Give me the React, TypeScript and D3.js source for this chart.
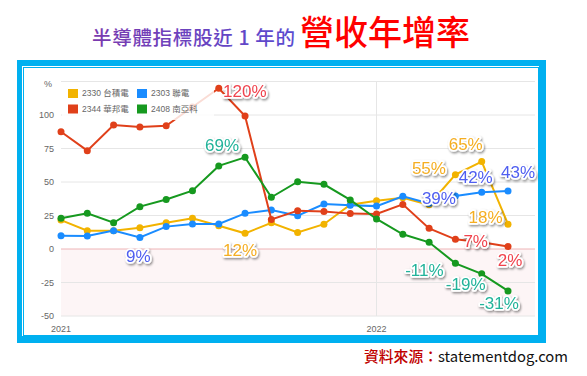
import React from "react";
import * as d3 from "d3";

const months = ["2021-01","2021-02","2021-03","2021-04","2021-05","2021-06","2021-07","2021-08","2021-09","2021-10","2021-11","2021-12","2022-01","2022-02","2022-03","2022-04","2022-05","2022-06"];
const tsmc = [21.6, 13.7, 13.7, 15.9, 19.6, 22.9, 17.4, 11.7, 19.5, 12.4, 18.5, 33, 36, 38.3, 33, 55.5, 65.3, 18.5];
const umc = [9.9, 9.7, 13.7, 8.6, 16.7, 18.7, 18.7, 26.6, 29.1, 24.9, 33.6, 32.6, 32, 39.3, 34, 39.5, 42.3, 43.3];
const winbond = [87.5, 73.4, 92.5, 91, 92, 106, 120, 99.3, 22, 28.6, 28, 26.4, 26.2, 33.3, 15.4, 7.2, 5, 1.8];
const nanya = [22.9, 26.6, 19.6, 31.6, 37, 43.5, 62, 68.4, 38.6, 50.2, 48.3, 36.6, 22.4, 11, 5, -10.7, -18.5, -31.3];

const seriesNames = ["2330 台積電", "2303 聯電", "2344 華邦電", "2408 南亞科"];
const seriesColors = ["#f2b300", "#1a8cff", "#e0401a", "#16991f"];
const yTicks = [-50, -25, 0, 25, 50, 75, 100, 125];
const yTickLabels = ["-50", "-25", "0", "25", "50", "75", "100", ""];
const xTickIdx = [0, 12];
const xTickLabels = ["2021", "2022"];

// annotations: series index, point index, text, offset
const annotations = [
  { s: 2, i: 6, text: "120%", dx: 26, dy: 3 },
  { s: 3, i: 7, text: "69%", dx: -23, dy: -12 },
  { s: 1, i: 3, text: "9%", dx: -1.5, dy: 18.5 },
  { s: 0, i: 7, text: "12%", dx: -5, dy: 17 },
  { s: 0, i: 15, text: "55%", dx: -26.5, dy: -6.6 },
  { s: 0, i: 16, text: "65%", dx: -16, dy: -17.5 },
  { s: 0, i: 17, text: "18%", dx: -22.5, dy: -7 },
  { s: 1, i: 15, text: "39%", dx: -16.5, dy: 1.7 },
  { s: 1, i: 16, text: "42%", dx: -6, dy: -15 },
  { s: 1, i: 17, text: "43%", dx: 10, dy: -19 },
  { s: 2, i: 16, text: "7%", dx: -6, dy: -1.6 },
  { s: 2, i: 17, text: "2%", dx: 2, dy: 13.5 },
  { s: 3, i: 15, text: "-11%", dx: -31, dy: 7 },
  { s: 3, i: 16, text: "-19%", dx: -16, dy: 10.5 },
  { s: 3, i: 17, text: "-31%", dx: -9, dy: 12 },
];
const labelColors = ["#f5ae22", "#4f5ef0", "#f0434d", "#22b39a"];

export default function App() {
  const W = 587, H = 376;
  const allSeries = [tsmc, umc, winbond, nanya];
  const x = d3.scaleLinear().domain([0, months.length - 1]).range([61, 508]);
  const y = d3.scaleLinear().domain([-50, 125]).range([316, 81.5]);
  const plotL = 61, plotR = 535;
  const line = d3.line<number>().x((_, i) => x(i)).y((d) => y(d));
  const font = "'Liberation Sans', Arial, 'Noto Sans CJK TC', sans-serif";
  const cjk = "'Noto Sans CJK TC', 'Noto Sans', sans-serif";

  return (
    <svg width={W} height={H} style={{ position: "absolute", left: 0, top: 0, background: "#fff" }}>
      <defs>
        <filter id="sh" x="-30%" y="-30%" width="160%" height="160%">
          <feDropShadow dx="1" dy="1.5" stdDeviation="1.3" floodColor="#000" floodOpacity="0.45" />
        </filter>
        <linearGradient id="tg" x1="0" x2="1" y1="0" y2="0">
          <stop offset="0" stopColor="#7a3aae" />
          <stop offset="1" stopColor="#5a4bd0" />
        </linearGradient>
      </defs>
      {/* Title */}
      <text x={92} y={45} fontFamily={cjk} fontSize={19.5} fontWeight={500} fill="url(#tg)" textLength={203} lengthAdjust="spacing">半導體指標股近 1 年的</text>
      <text x={300} y={45} fontFamily={cjk} fontSize={34} fontWeight={500} fill="#ff0000">營收年增率</text>

      {/* Frame */}
      <rect x={17} y={60} width={529} height={283} fill="#00b0f0" />
      <rect x={22} y={66} width={517} height={270} fill="#fff" />
      <rect x={23.5} y={67.5} width={515} height={268} fill="none" stroke="#00b0f0" strokeWidth={1} />

      {/* negative region */}
      <rect x={plotL} y={y(0)} width={plotR - plotL} height={y(-50) - y(0)} fill="#fdf5f6" />
      {/* grid */}
      {yTicks.map((t) => (
        <line key={t} x1={plotL} x2={plotR} y1={y(t)} y2={y(t)} stroke={t === 0 ? "#eeb4b6" : "#e6e6e6"} strokeWidth={1} />
      ))}
      <line x1={x(12)} x2={x(12)} y1={y(125)} y2={y(-50)} stroke="#e6e6e6" strokeWidth={1} />
      {/* y labels */}
      {yTicks.map((t, k) => (
        <text key={t} x={54} y={y(t)} dy="0.35em" textAnchor="end" fontFamily={font} fontSize={9} fill="#666">{yTickLabels[k]}</text>
      ))}
      <text x={52} y={84} dy="0.35em" textAnchor="end" fontFamily={font} fontSize={9} fill="#666">%</text>
      {xTickIdx.map((t, k) => (
        <text key={t} x={x(t)} y={329} dy="0.35em" textAnchor="middle" fontFamily={font} fontSize={9} fill="#666">{xTickLabels[k]}</text>
      ))}

      {/* series */}
      {allSeries.map((s, si) => (
        <g key={si}>
          <path d={line(s) || ""} fill="none" stroke={seriesColors[si]} strokeWidth={2} />
          {s.map((v, i) => (
            <circle key={i} cx={x(i)} cy={y(v)} r={3.5} fill={seriesColors[si]} />
          ))}
        </g>
      ))}

      {/* legend */}
      <rect x={62} y={82} width={152} height={38} fill="#fff" opacity={0.82} />
      {seriesNames.map((n, k) => {
        const lx = k % 2 === 0 ? 68 : 137;
        const ly = k < 2 ? 93.5 : 109;
        return (
          <g key={n}>
            <rect x={lx} y={ly - 4.5} width={10} height={9} fill={seriesColors[k]} />
            <text x={lx + 14} y={ly} dy="0.35em" fontFamily={font} fontSize={8.5} fill="#666">{n}</text>
          </g>
        );
      })}

      {/* annotations */}
      {annotations.map((a, k) => (
        <text
          key={k}
          x={x(a.i) + a.dx}
          y={y(allSeries[a.s][a.i]) + a.dy}
          dy="0.36em"
          textAnchor="middle"
          fontFamily={font}
          fontSize={17}
          fill={labelColors[a.s]}
          stroke="#fff"
          strokeWidth={3.5}
          strokeLinejoin="round"
          paintOrder="stroke"
          filter="url(#sh)"
        >
          {a.text}
        </text>
      ))}

      {/* footer */}
      <text x={364} y={362} fontFamily={cjk} fontSize={14.8}>
        <tspan fill="#c00000" fontWeight={500}>資料來源：</tspan>
        <tspan fill="#111">statementdog.com</tspan>
      </text>
    </svg>
  );
}
